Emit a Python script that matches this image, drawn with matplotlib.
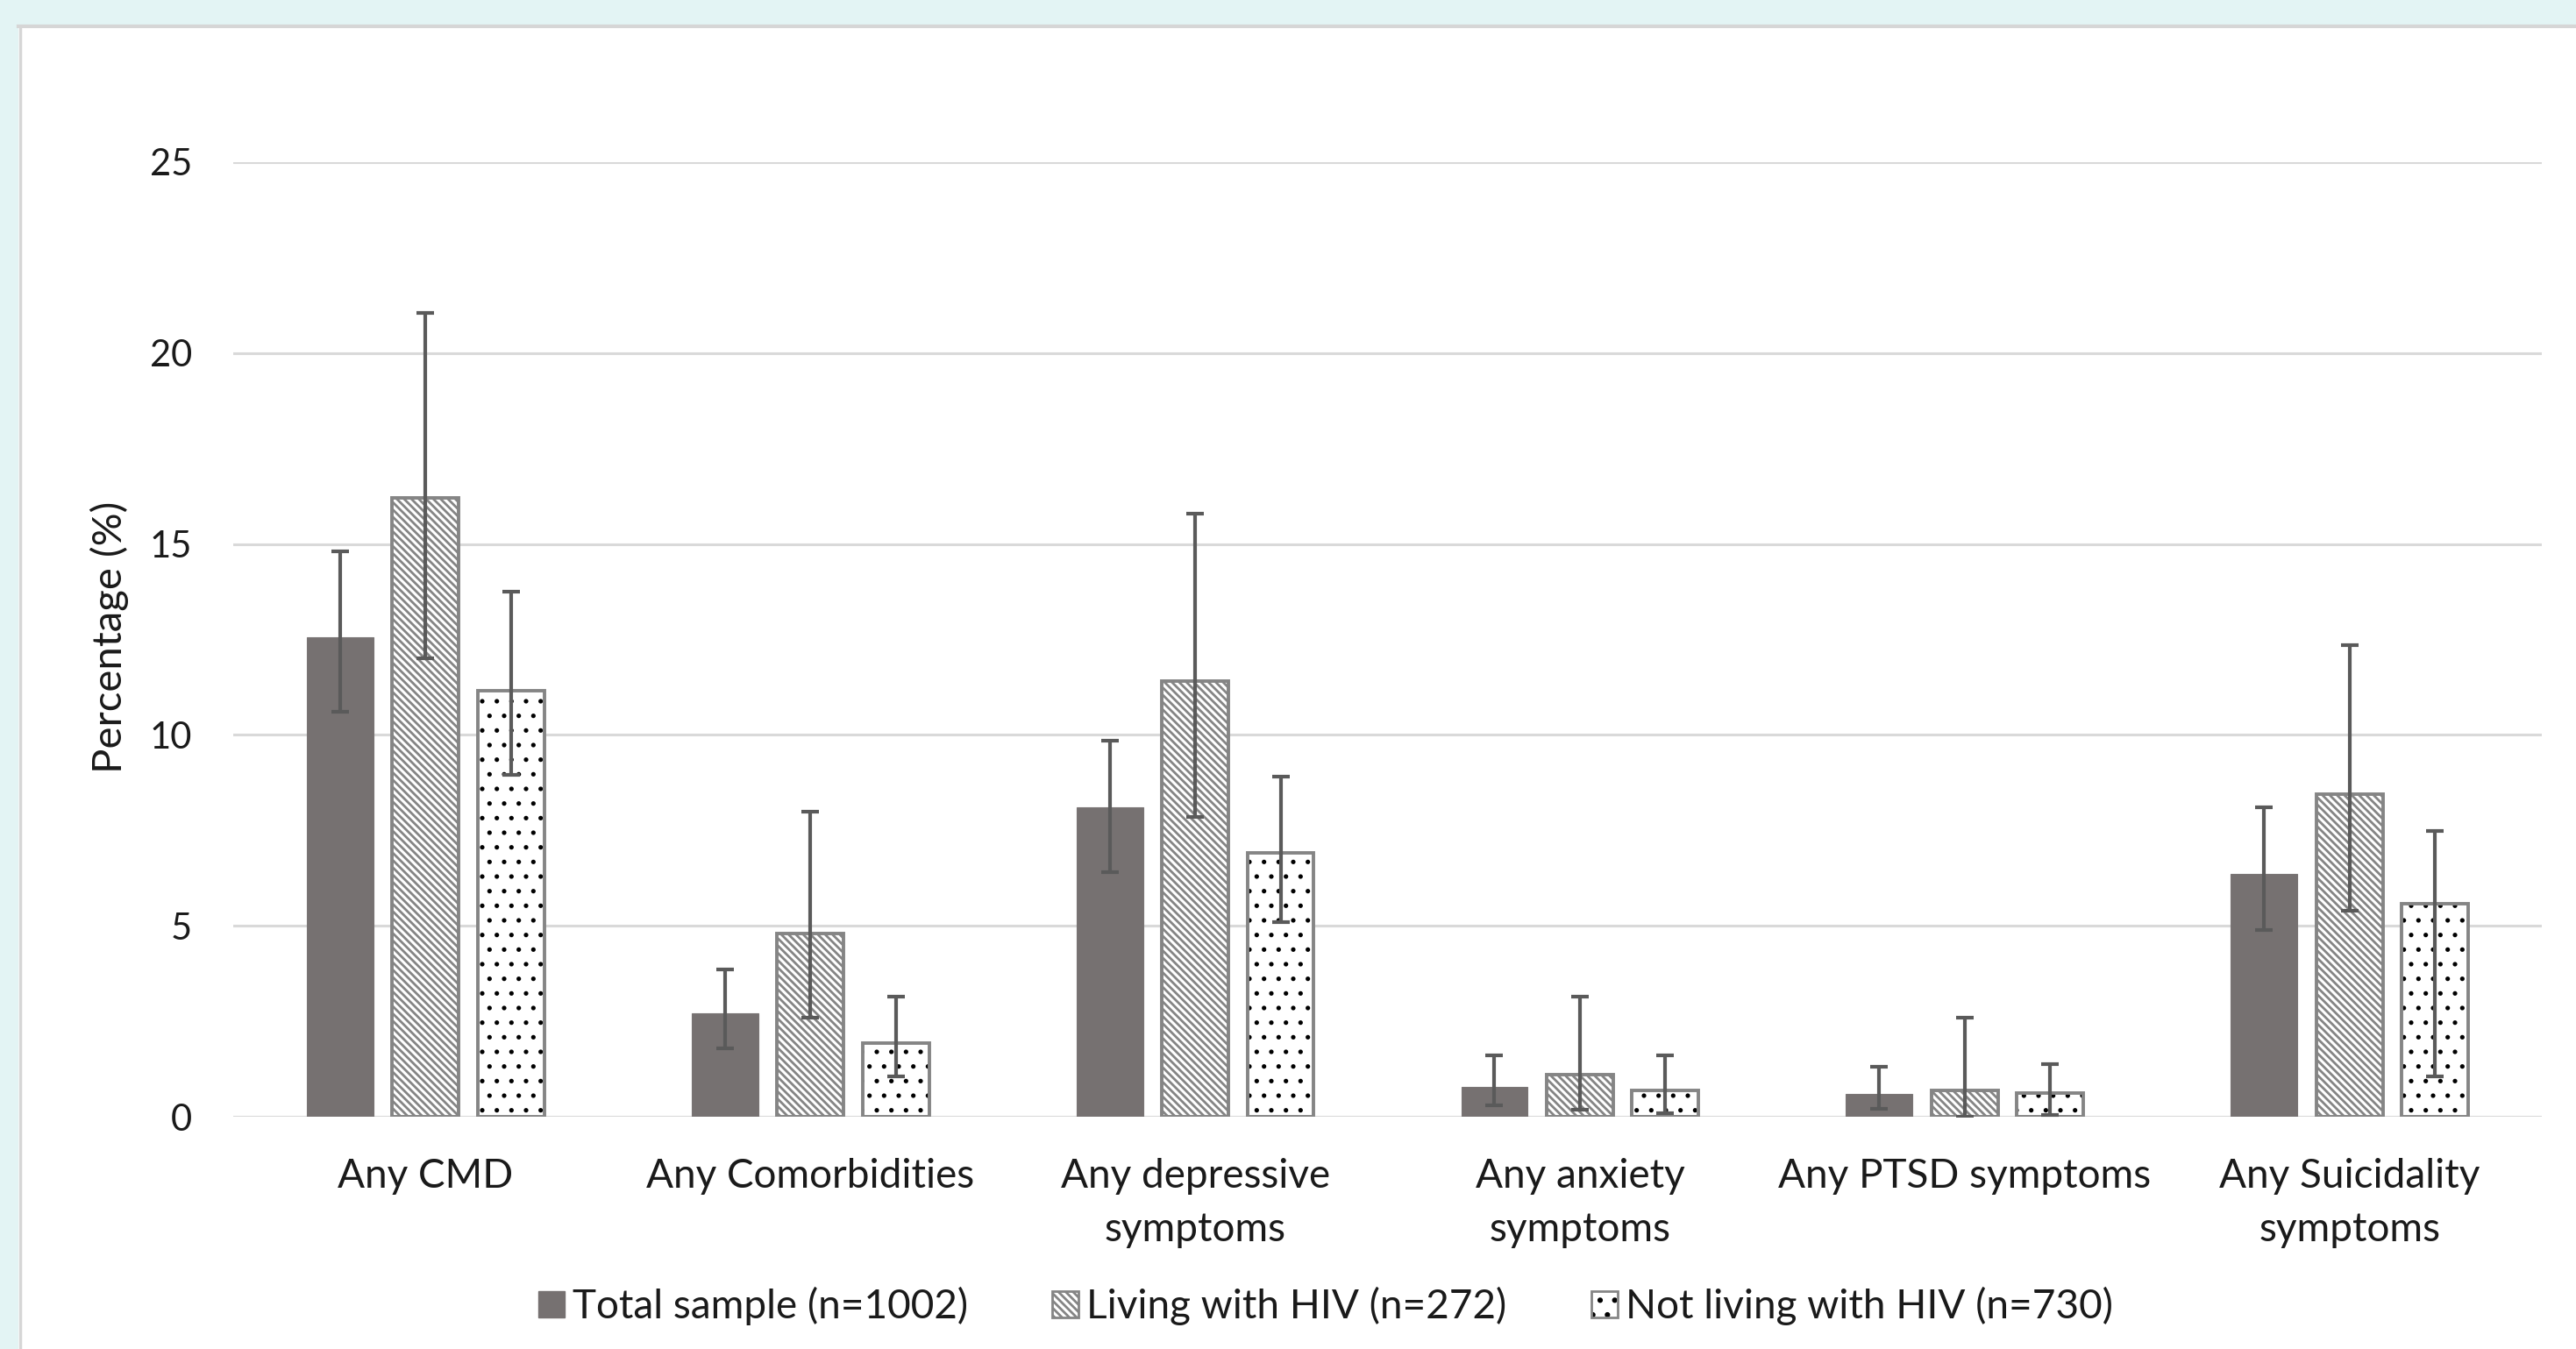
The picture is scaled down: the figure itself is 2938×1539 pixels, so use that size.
import matplotlib
matplotlib.use("Agg")
import matplotlib.pyplot as plt
import numpy as np
from matplotlib.patches import Rectangle, Patch
from matplotlib.lines import Line2D
from matplotlib.legend_handler import HandlerTuple

# data
categories = ["Any CMD", "Any Comorbidities", "Any depressive\nsymptoms",
              "Any anxiety\nsymptoms", "Any PTSD symptoms", "Any Suicidality\nsymptoms"]
series_names = ["Total sample (n=1002)", "Living with HIV (n=272)", "Not living with HIV (n=730)"]

total = [12.55, 2.7, 8.1, 0.78, 0.6, 6.35]
total_lo = [10.6, 1.8, 6.4, 0.3, 0.2, 4.9]
total_hi = [14.8, 3.85, 9.85, 1.6, 1.3, 8.1]

hiv = [16.2, 4.8, 11.4, 1.1, 0.7, 8.45]
hiv_lo = [12.0, 2.6, 7.85, 0.18, 0.0, 5.4]
hiv_hi = [21.05, 8.0, 15.8, 3.15, 2.6, 12.35]

nohiv = [11.15, 1.92, 6.9, 0.7, 0.62, 5.58]
nohiv_lo = [8.95, 1.05, 5.1, 0.1, 0.05, 1.05]
nohiv_hi = [13.75, 3.15, 8.9, 1.6, 1.38, 7.48]

yticks = [0, 5, 10, 15, 20, 25]

plt.rcParams['font.family'] = ['Lato', 'DejaVu Sans']
plt.rcParams['hatch.linewidth'] = 2.0

W, H = 2938, 1539
fig = plt.figure(figsize=(W / 100, H / 100), dpi=100)
fig.patch.set_facecolor("white")

# light cyan page margin and the chart frame border
fig.add_artist(Rectangle((0, 1 - 28 / H), 1, 28 / H, transform=fig.transFigure,
                         facecolor="#e3f4f4", edgecolor="none", zorder=0))
fig.add_artist(Rectangle((0, 0), 21 / W, 1, transform=fig.transFigure,
                         facecolor="#e3f4f4", edgecolor="none", zorder=0))
fig.add_artist(Line2D([21 / W, 1], [1 - 30 / H, 1 - 30 / H], transform=fig.transFigure,
                      color="#d6d6d6", lw=3))
fig.add_artist(Line2D([22.5 / W, 22.5 / W], [0, 1 - 30 / H], transform=fig.transFigure,
                      color="#d6d6d6", lw=2.5))

ax = fig.add_axes([266 / W, 1 - 1274 / H, (2899 - 266) / W, (1274 - 185) / H])

x = np.arange(len(categories))
off = 0.222
bw = 0.173
err_kw = dict(fmt="none", ecolor="#5a5a5a", elinewidth=3.0, capsize=7, capthick=3.0, zorder=5)

ax.bar(x - off, total, bw, color="#767171", edgecolor="#7a7575", linewidth=0.8, zorder=3)
ax.bar(x, hiv, bw, facecolor="white", edgecolor="#858585", hatch="\\\\\\\\", linewidth=2.8, zorder=3)
with plt.rc_context({'hatch.linewidth': 1.3}):
    ax.bar(x + off, nohiv, bw, facecolor="white", edgecolor="black", hatch=".", linewidth=0, zorder=3)
ax.bar(x + off, nohiv, bw, fill=False, edgecolor="#858585", linewidth=2.8, zorder=4)

ax.errorbar(x - off, total, yerr=[np.subtract(total, total_lo), np.subtract(total_hi, total)], **err_kw)
ax.errorbar(x, hiv, yerr=[np.subtract(hiv, hiv_lo), np.subtract(hiv_hi, hiv)], **err_kw)
ax.errorbar(x + off, nohiv, yerr=[np.subtract(nohiv, nohiv_lo), np.subtract(nohiv_hi, nohiv)], **err_kw)

ax.set_xlim(-0.5, len(categories) - 0.5)
ax.set_ylim(0, 25)
ax.set_yticks(yticks)
ax.set_xticks(x)
ax.set_xticklabels(categories, linespacing=1.55, fontsize=33)
ax.yaxis.grid(True, color="#d9d9d9", linewidth=2.2, zorder=0)
ax.set_axisbelow(True)
for s in ax.spines.values():
    s.set_visible(False)
ax.tick_params(axis="both", length=0, colors="#1a1a1a")
ax.tick_params(axis="y", pad=34, labelsize=30)
ax.tick_params(axis="x", pad=34)

fig.text(125 / W, 1 - 727 / H, "Percentage (%)", rotation=90, ha="center", va="center",
         fontsize=34, color="#1a1a1a")

h_total = Patch(facecolor="#767171", edgecolor="#767171")
h_hiv = Patch(facecolor="white", edgecolor="#858585", hatch="\\\\\\\\", linewidth=2)
with plt.rc_context({'hatch.linewidth': 1.3}):
    h_no_a = Patch(facecolor="white", edgecolor="black", hatch=".", linewidth=0)
h_no_b = Patch(fill=False, edgecolor="#858585", linewidth=2)
fig.legend([h_total, h_hiv, (h_no_a, h_no_b)], series_names,
           handler_map={tuple: HandlerTuple(ndivide=1, pad=0)},
           loc="center", bbox_to_anchor=(1512 / W, 1 - 1490 / H), ncol=3, frameon=False,
           fontsize=33, handlelength=0.65, handleheight=0.65, handletextpad=0.2,
           columnspacing=2.1, labelcolor="#1a1a1a")

fig.savefig("out.png", dpi=100)
